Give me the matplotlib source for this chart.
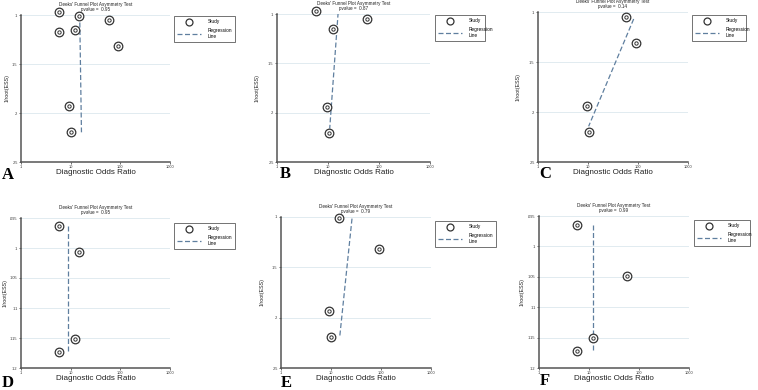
import numpy as np
import matplotlib
matplotlib.use("Agg")
import matplotlib.pyplot as plt
from matplotlib.lines import Line2D

plt.rcParams['font.family'] = ['Liberation Sans', 'DejaVu Sans']

W, H = 758, 390

# ---- data (x = diagnostic odds ratio, y = 1/root(ESS)) ----
panel_labels = ["A", "B", "C", "D", "E", "F"]
pvalues = ["0.95", "0.87", "0.14", "0.95", "0.79", "0.99"]

a_dor = [5.7, 14.5, 59, 5.7, 12.1, 91, 9.4, 10.2]
a_ess = [0.0966, 0.1007, 0.105, 0.1174, 0.115, 0.1313, 0.1932, 0.2197]
a_reg_dor = [15.2, 16.5]
a_reg_ess = [0.1, 0.2197]

b_dor = [5.9, 58.6, 12.6, 9.6, 10.5]
b_ess = [0.097, 0.1051, 0.1156, 0.1941, 0.2205]
b_reg_dor = [15.8, 10.8]
b_reg_ess = [0.0986, 0.2161]

c_dor = [58.4, 91.2, 9.55, 10.3]
c_ess = [0.105, 0.1313, 0.1937, 0.2203]
c_reg_dor = [81.9, 10.3]
c_reg_ess = [0.107, 0.2143]

d_dor = [5.7, 14.4, 12.0, 5.7]
d_ess = [0.0964, 0.1006, 0.1152, 0.1174]
d_reg_dor = [8.8, 8.8]
d_reg_ess = [0.0964, 0.1171]

e_dor = [14.2, 92.6, 9.3, 10.2]
e_ess = [0.101, 0.1313, 0.1933, 0.2196]
e_reg_dor = [26.3, 14.9]
e_reg_ess = [0.1016, 0.2196]

f_dor = [5.65, 58, 12.1, 5.65]
f_ess = [0.0965, 0.1049, 0.115, 0.1172]
f_reg_dor = [12.1, 12.1]
f_reg_ess = [0.0965, 0.117]

x_ticks = [1, 10, 100, 1000]
x_ticklabels = ["1", "10", "100", "1000"]
y_ticks_wide = [0.1, 0.15, 0.2, 0.25]
y_ticklabels_wide = [".1", ".15", ".2", ".25"]
y_ticks_narrow = [0.095, 0.1, 0.105, 0.11, 0.115, 0.12]
y_ticklabels_narrow = [".095", ".1", ".105", ".11", ".115", ".12"]

points = [(a_dor, a_ess), (b_dor, b_ess), (c_dor, c_ess),
          (d_dor, d_ess), (e_dor, e_ess), (f_dor, f_ess)]
reglines = [(a_reg_dor, a_reg_ess), (b_reg_dor, b_reg_ess), (c_reg_dor, c_reg_ess),
            (d_reg_dor, d_reg_ess), (e_reg_dor, e_reg_ess), (f_reg_dor, f_reg_ess)]

# ---- layout in pixels: axes (left, top, right, bottom), legend box, letter pos ----
axes_px = [(21, 15, 170, 162), (277, 14, 430, 162), (538, 12, 688, 162),
           (21, 218, 170, 368), (281, 217, 431, 368), (539, 216, 689, 368)]
legend_px = [(172, 14, 237, 39), (433, 13, 487, 39), (690, 13, 748, 39),
             (172, 221, 237, 245), (433, 219, 498, 244), (692, 218, 752, 243)]
letter_px = [(2, 167), (280, 166), (539, 166), (2, 375), (281, 375), (540, 373)]
ylab_off = [14, 20, 20, 16, 19, 17]

reg_color = "#5f7f9f"
spine_color = "#555555"

fig = plt.figure(figsize=(W / 100, H / 100), dpi=100)

for i in range(6):
    l, t, r, b = axes_px[i]
    ax = fig.add_axes([l / W, 1 - b / H, (r - l) / W, (b - t) / H])
    narrow = i in (3, 5)
    yt = y_ticks_narrow if narrow else y_ticks_wide
    ytl = y_ticklabels_narrow if narrow else y_ticklabels_wide

    ax.set_xscale("log")
    ax.set_xlim(1, 1000)
    ax.set_ylim(yt[-1], yt[0])
    ax.set_xticks(x_ticks)
    ax.set_xticklabels(x_ticklabels)
    ax.minorticks_off()
    ax.set_yticks(yt)
    ax.set_yticklabels(ytl)
    ax.tick_params(labelsize=2.8, length=1.5, width=0.5, pad=1, colors="#333333")

    for s in ["top", "right"]:
        ax.spines[s].set_visible(False)
    for s in ["left", "bottom"]:
        ax.spines[s].set_color(spine_color)
        ax.spines[s].set_linewidth(1.1)

    for y in yt[:-1]:
        ax.axhline(y, color="#dce8ee", lw=0.6, zorder=0)

    rx, ry = reglines[i]
    ax.plot(rx, ry, ls=(0, (4, 2)), color=reg_color, lw=0.9, zorder=2)

    px, py = points[i]
    ax.plot(px, py, "o", ms=6.2, mfc="white", mec="#333333", mew=0.9,
            ls="none", clip_on=False, zorder=3)
    ax.plot(px, py, "o", ms=2.4, mfc="white", mec="#333333", mew=0.7,
            ls="none", clip_on=False, zorder=4)

    cx = (l + r) / 2 / W
    fig.text(cx, 1 - (t - 3) / H,
             "Deeks' Funnel Plot Asymmetry Test\npvalue =  " + pvalues[i],
             ha="center", va="bottom", fontsize=3.3, linespacing=1.0, color="#222222")
    fig.text(cx, 1 - (b + 11) / H, "Diagnostic Odds Ratio",
             ha="center", va="center", fontsize=5.8, color="#222222")
    fig.text((l - ylab_off[i]) / W, 1 - (t + b) / 2 / H, "1/root(ESS)",
             ha="center", va="center", rotation=90, fontsize=3.8, color="#222222")

    lx, ly = letter_px[i]
    fig.text(lx / W, 1 - ly / H, panel_labels[i], ha="left", va="top",
             fontsize=12, fontweight="bold", family=["Liberation Serif", "DejaVu Serif"])

    ll, lt, lr, lb = legend_px[i]
    handles = [Line2D([], [], marker="o", ls="none", ms=5, mfc="white",
                      mec="#333333", mew=0.9),
               Line2D([], [], ls=(0, (4, 2)), color=reg_color, lw=0.9)]
    leg = fig.legend(handles, ["Study", "Regression\nLine"],
                     bbox_to_anchor=(ll / W, 1 - lb / H, (lr - ll) / W, (lb - lt) / H),
                     bbox_transform=fig.transFigure, loc="upper left", mode="expand",
                     fontsize=3.4, frameon=True, fancybox=False, borderpad=0.6,
                     handlelength=5, labelspacing=0.9, handletextpad=1.5)
    leg.get_frame().set_edgecolor("#333333")
    leg.get_frame().set_linewidth(0.6)

fig.savefig("out.png", dpi=100)
